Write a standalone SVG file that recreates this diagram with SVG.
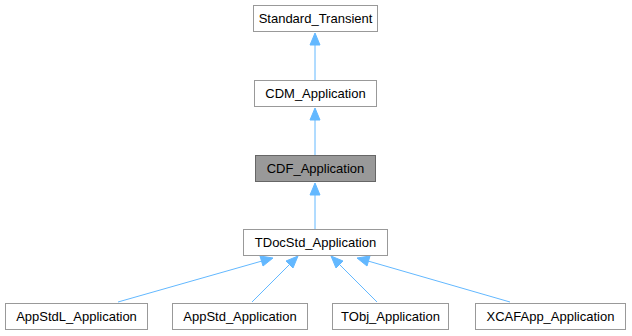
<svg xmlns="http://www.w3.org/2000/svg" width="632" height="336" viewBox="0 0 632 336">
<style>
.n rect{fill:#fff;stroke:#999;stroke-width:1}
.n.h rect{fill:#999;stroke:#666}
.n text{font-family:"Liberation Sans",Arial,sans-serif;font-size:13px;fill:#000;text-anchor:middle}
.e path{fill:none;stroke:#63b8ff;stroke-width:1}
.e polygon{fill:#63b8ff;stroke:#63b8ff}
</style>
<rect width="632" height="336" fill="#fff"/>
<g class="e" id="edges">
<path d="M315,80 V42"/><polygon points="315,33 320,45 310,45"/>
<path d="M315,155 V117"/><polygon points="315,108 320,120 310,120"/>
<path d="M315,229 V192"/><polygon points="315,183 320,195 310,195"/>
<path d="M118,302 L262,261"/><polygon points="273,258 263,266 260,256"/>
<path d="M252,302 L290,264"/><polygon points="298,256 293,268 286,261"/>
<path d="M377,302 L339,264"/><polygon points="331,256 343,261 336,268"/>
<path d="M510,302 L368,261"/><polygon points="357,258 370,256 367,266"/>
</g>
<g class="n" id="n_standard_transient"><rect x="253.5" y="5.5" width="124" height="26"/><text x="315.5" y="23">Standard_Transient</text></g>
<g class="n" id="n_cdm_application"><rect x="254.5" y="80.5" width="122" height="26"/><text x="315.5" y="98">CDM_Application</text></g>
<g class="n h" id="n_cdf_application"><rect x="255.5" y="155.5" width="120" height="26"/><text x="315.5" y="173">CDF_Application</text></g>
<g class="n" id="n_tdocstd_application"><rect x="243.5" y="229.5" width="144" height="26"/><text x="315.5" y="247">TDocStd_Application</text></g>
<g class="n" id="n_appstdl_application"><rect x="5.5" y="303.5" width="142" height="26"/><text x="76.5" y="321">AppStdL_Application</text></g>
<g class="n" id="n_appstd_application"><rect x="172.5" y="303.5" width="135" height="26"/><text x="240" y="321">AppStd_Application</text></g>
<g class="n" id="n_tobj_application"><rect x="332.5" y="303.5" width="116" height="26"/><text x="390.5" y="321">TObj_Application</text></g>
<g class="n" id="n_xcafapp_application"><rect x="475.5" y="303.5" width="150" height="26"/><text x="550.5" y="321">XCAFApp_Application</text></g>
</svg>
